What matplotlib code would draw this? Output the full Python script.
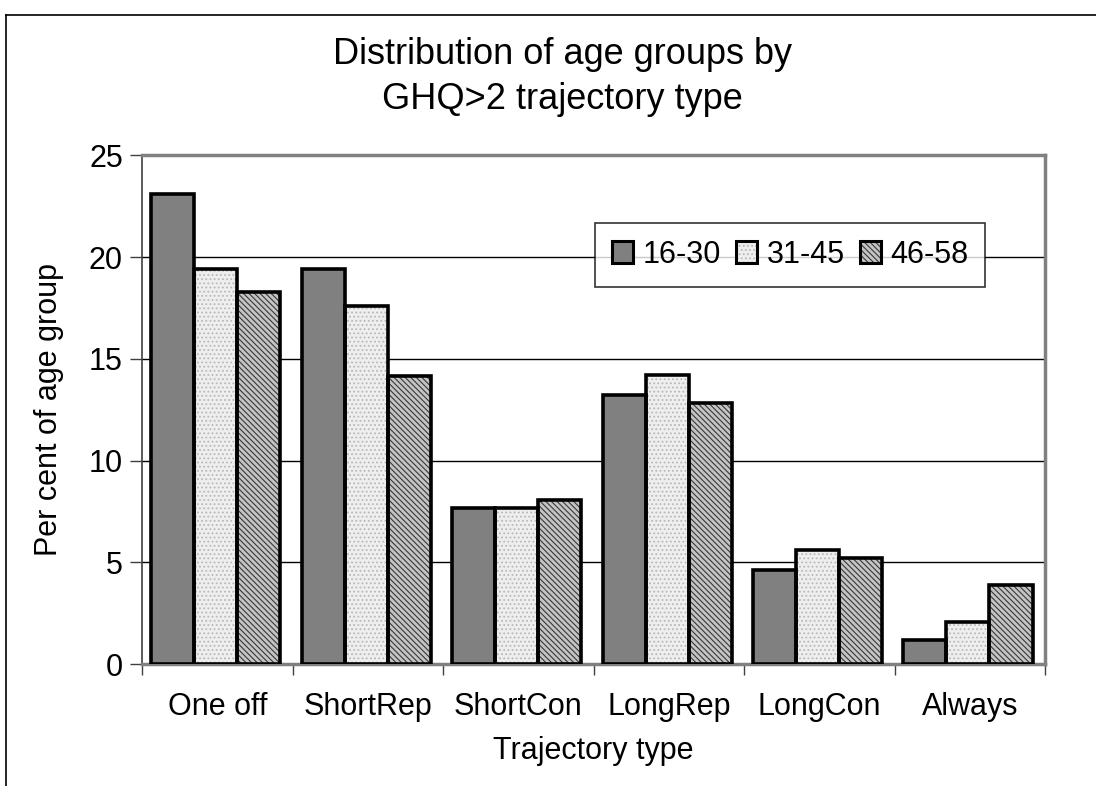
import numpy as np
import matplotlib
matplotlib.use("Agg")
import matplotlib.pyplot as plt
from matplotlib.patches import Patch
from matplotlib.lines import Line2D
from matplotlib.legend_handler import HandlerTuple

plt.rcParams['font.family'] = ['Liberation Sans', 'DejaVu Sans']
plt.rcParams['hatch.linewidth'] = 0.8

# data
categories = ['One off', 'ShortRep', 'ShortCon', 'LongRep', 'LongCon', 'Always']
groups = ['16-30', '31-45', '46-58']
age_16_30 = [23.1, 19.4, 7.65, 13.2, 4.6, 1.2]
age_31_45 = [19.4, 17.6, 7.65, 14.2, 5.6, 2.05]
age_46_58 = [18.3, 14.15, 8.05, 12.85, 5.2, 3.9]
yticks = [0, 5, 10, 15, 20, 25]

series = [age_16_30, age_31_45, age_46_58]
faces = ['#808080', '#eeeeee', '#c4c4c4']
hatches = [None, '....', '\\\\\\\\\\\\']
hatch_cols = ['#808080', '#b8b8b8', '#383838']

fig = plt.figure(figsize=(10.96, 7.86), dpi=100)
ax = fig.add_axes([142.3/1096, 1-664/786, (1045-142.3)/1096, (664-155.3)/786])

x = np.arange(len(categories))
w = 0.286
handles = []
for i, (vals, fc, h, hc) in enumerate(zip(series, faces, hatches, hatch_cols)):
    pos = x + (i - 1) * w - 0.012
    ax.bar(pos, vals, w, color=fc, hatch=h, edgecolor=hc, linewidth=0, zorder=3)
    ax.bar(pos, vals, w, fill=False, edgecolor='black', linewidth=2.6, zorder=4)
    handles.append((Patch(facecolor=fc, hatch=h, edgecolor=hc, linewidth=0),
                    Patch(fill=False, edgecolor='black', linewidth=2.2)))

ax.set_xlim(-0.5, len(categories) - 0.5)
ax.set_ylim(0, 25)
ax.set_yticks(yticks)
for v in yticks[1:-1]:
    ax.axhline(v, color='black', linewidth=1, zorder=1)

for side in ['top', 'right', 'bottom']:
    ax.spines[side].set_color('#808080')
    ax.spines[side].set_linewidth(2.5)
ax.spines['left'].set_color('#404040')
ax.spines['left'].set_linewidth(1.2)

ax.set_xticks(x)
ax.set_xticklabels(categories)
ax.set_xticks(np.arange(len(categories) + 1) - 0.5, minor=True)
ax.tick_params(axis='x', which='major', length=0, pad=20, labelsize=22)
ax.tick_params(axis='x', which='minor', length=8, width=1, color='#404040', direction='out')
ax.tick_params(axis='y', length=9, width=1, color='#404040', pad=5, labelsize=22)

ax.set_xlabel('Trajectory type', fontsize=22, labelpad=10)
ax.set_ylabel('Per cent of age group', fontsize=22, labelpad=18)

fig.text(0.513, 1 - 77/786, 'Distribution of age groups by\nGHQ>2 trajectory type',
         ha='center', va='center', fontsize=26, linespacing=1.38)

leg = ax.legend(handles, groups, handler_map={tuple: HandlerTuple(ndivide=1)},
                ncol=3, loc='upper left', bbox_to_anchor=((595-142.3)/902.7, (664-223)/508.7),
                fontsize=22, frameon=True, fancybox=False, edgecolor='black',
                handlelength=0.7, handleheight=0.7, handletextpad=0.3,
                columnspacing=0.5, borderpad=0.55, borderaxespad=0)
leg.get_frame().set_linewidth(1.2)
leg.set_zorder(6)

# outer chart frame (partly cut off)
fig.add_artist(Line2D([6/1096, 1.01], [1-15/786, 1-15/786], color='black', linewidth=1.2, transform=fig.transFigure))
fig.add_artist(Line2D([6/1096, 6/1096], [-0.01, 1-15/786], color='black', linewidth=1.2, transform=fig.transFigure))

fig.savefig('out.png', dpi=100)
